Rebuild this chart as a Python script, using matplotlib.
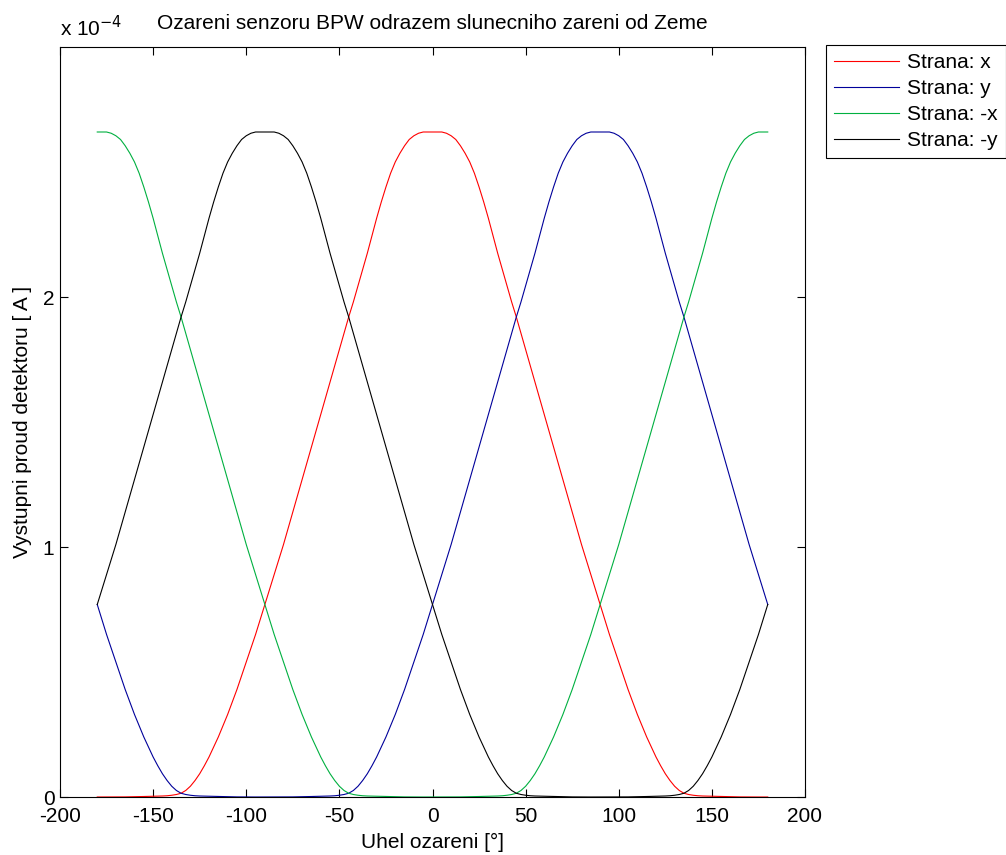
import numpy as np
import matplotlib
matplotlib.use("Agg")
import matplotlib.pyplot as plt
from matplotlib.ticker import FuncFormatter

plt.rcParams['font.family'] = ['Liberation Sans', 'DejaVu Sans']
plt.rcParams['axes.unicode_minus'] = False

# angle of irradiation, degrees
uhel = np.arange(-180, 180.1, 2.5)

# detector output current, in units of 1e-4 A
strana_x = [0, 0, 0, 0, 0, 0.0002, 0.0004, 0.0007, 0.001, 0.0015, 0.002, 0.0025,
            0.003, 0.0035, 0.004, 0.005, 0.007, 0.010, 0.015, 0.026, 0.043, 0.066,
            0.093, 0.125, 0.16, 0.20, 0.24, 0.285, 0.33, 0.38, 0.43, 0.485, 0.54,
            0.595, 0.65, 0.71, 0.77, 0.83, 0.89, 0.95, 1.01, 1.075, 1.14, 1.205,
            1.27, 1.335, 1.40, 1.465, 1.53, 1.595, 1.66, 1.725, 1.79, 1.855, 1.92,
            1.98, 2.045, 2.11, 2.175, 2.245, 2.315, 2.38, 2.44, 2.495, 2.54, 2.575,
            2.605, 2.63, 2.645, 2.655, 2.66, 2.66, 2.66,
            2.66, 2.66, 2.655, 2.645, 2.63, 2.605, 2.575, 2.54, 2.495, 2.44, 2.38,
            2.315, 2.245, 2.175, 2.11, 2.045, 1.98, 1.92, 1.855, 1.79, 1.725, 1.66,
            1.595, 1.53, 1.465, 1.40, 1.335, 1.27, 1.205, 1.14, 1.075, 1.01, 0.95,
            0.89, 0.83, 0.77, 0.71, 0.65, 0.595, 0.54, 0.485, 0.43, 0.38, 0.33,
            0.285, 0.24, 0.20, 0.16, 0.125, 0.093, 0.066, 0.043, 0.026, 0.015,
            0.010, 0.007, 0.005, 0.004, 0.0035, 0.003, 0.0025, 0.002, 0.0015,
            0.001, 0.0007, 0.0004, 0.0002, 0, 0, 0, 0, 0]

strana_y = [0.77, 0.71, 0.65, 0.595, 0.54, 0.485, 0.43, 0.38, 0.33, 0.285, 0.24,
            0.20, 0.16, 0.125, 0.093, 0.066, 0.043, 0.026, 0.015, 0.010, 0.007,
            0.005, 0.004, 0.0035, 0.003, 0.0025, 0.002, 0.0015, 0.001, 0.0007,
            0.0004, 0.0002, 0, 0, 0, 0, 0,
            0, 0, 0, 0, 0.0002, 0.0004, 0.0007, 0.001, 0.0015, 0.002, 0.0025,
            0.003, 0.0035, 0.004, 0.005, 0.007, 0.010, 0.015, 0.026, 0.043, 0.066,
            0.093, 0.125, 0.16, 0.20, 0.24, 0.285, 0.33, 0.38, 0.43, 0.485, 0.54,
            0.595, 0.65, 0.71, 0.77, 0.83, 0.89, 0.95, 1.01, 1.075, 1.14, 1.205,
            1.27, 1.335, 1.40, 1.465, 1.53, 1.595, 1.66, 1.725, 1.79, 1.855, 1.92,
            1.98, 2.045, 2.11, 2.175, 2.245, 2.315, 2.38, 2.44, 2.495, 2.54, 2.575,
            2.605, 2.63, 2.645, 2.655, 2.66, 2.66, 2.66,
            2.66, 2.66, 2.655, 2.645, 2.63, 2.605, 2.575, 2.54, 2.495, 2.44, 2.38,
            2.315, 2.245, 2.175, 2.11, 2.045, 1.98, 1.92, 1.855, 1.79, 1.725, 1.66,
            1.595, 1.53, 1.465, 1.40, 1.335, 1.27, 1.205, 1.14, 1.075, 1.01, 0.95,
            0.89, 0.83, 0.77]

strana_mx = [2.66, 2.66, 2.66, 2.655, 2.645, 2.63, 2.605, 2.575, 2.54, 2.495,
             2.44, 2.38, 2.315, 2.245, 2.175, 2.11, 2.045, 1.98, 1.92, 1.855, 1.79,
             1.725, 1.66, 1.595, 1.53, 1.465, 1.40, 1.335, 1.27, 1.205, 1.14,
             1.075, 1.01, 0.95, 0.89, 0.83, 0.77, 0.71, 0.65, 0.595, 0.54, 0.485,
             0.43, 0.38, 0.33, 0.285, 0.24, 0.20, 0.16, 0.125, 0.093, 0.066, 0.043,
             0.026, 0.015, 0.010, 0.007, 0.005, 0.004, 0.0035, 0.003, 0.0025,
             0.002, 0.0015, 0.001, 0.0007, 0.0004, 0.0002, 0, 0, 0, 0, 0,
             0, 0, 0, 0, 0.0002, 0.0004, 0.0007, 0.001, 0.0015, 0.002, 0.0025,
             0.003, 0.0035, 0.004, 0.005, 0.007, 0.010, 0.015, 0.026, 0.043, 0.066,
             0.093, 0.125, 0.16, 0.20, 0.24, 0.285, 0.33, 0.38, 0.43, 0.485, 0.54,
             0.595, 0.65, 0.71, 0.77, 0.83, 0.89, 0.95, 1.01, 1.075, 1.14, 1.205,
             1.27, 1.335, 1.40, 1.465, 1.53, 1.595, 1.66, 1.725, 1.79, 1.855, 1.92,
             1.98, 2.045, 2.11, 2.175, 2.245, 2.315, 2.38, 2.44, 2.495, 2.54, 2.575,
             2.605, 2.63, 2.645, 2.655, 2.66, 2.66, 2.66]

strana_my = [0.77, 0.83, 0.89, 0.95, 1.01, 1.075, 1.14, 1.205, 1.27, 1.335, 1.40,
             1.465, 1.53, 1.595, 1.66, 1.725, 1.79, 1.855, 1.92, 1.98, 2.045, 2.11,
             2.175, 2.245, 2.315, 2.38, 2.44, 2.495, 2.54, 2.575, 2.605, 2.63,
             2.645, 2.655, 2.66, 2.66,
             2.66, 2.66, 2.66, 2.655, 2.645, 2.63, 2.605, 2.575, 2.54, 2.495, 2.44,
             2.38, 2.315, 2.245, 2.175, 2.11, 2.045, 1.98, 1.92, 1.855, 1.79, 1.725,
             1.66, 1.595, 1.53, 1.465, 1.40, 1.335, 1.27, 1.205, 1.14, 1.075, 1.01,
             0.95, 0.89, 0.83, 0.77, 0.71, 0.65, 0.595, 0.54, 0.485, 0.43, 0.38,
             0.33, 0.285, 0.24, 0.20, 0.16, 0.125, 0.093, 0.066, 0.043, 0.026,
             0.015, 0.010, 0.007, 0.005, 0.004, 0.0035, 0.003, 0.0025, 0.002,
             0.0015, 0.001, 0.0007, 0.0004, 0.0002, 0, 0, 0, 0,
             0, 0, 0, 0, 0, 0.0002, 0.0004, 0.0007, 0.001, 0.0015, 0.002, 0.0025,
             0.003, 0.0035, 0.004, 0.005, 0.007, 0.010, 0.015, 0.026, 0.043, 0.066,
             0.093, 0.125, 0.16, 0.20, 0.24, 0.285, 0.33, 0.38, 0.43, 0.485, 0.54,
             0.595, 0.65, 0.71, 0.77]

labels = ['Strana: x', 'Strana: y', 'Strana: -x', 'Strana: -y']
colors = ['#ff0000', '#00009a', '#00b040', '#000000']

fig = plt.figure(figsize=(10.06, 8.55), dpi=100)
ax = fig.add_axes([60 / 1006, 1 - 797 / 855, 745 / 1006, 750 / 855])

for vals, lab, c in zip([strana_x, strana_y, strana_mx, strana_my], labels, colors):
    ax.plot(uhel, np.array(vals) * 1e-4, color=c, lw=0.8, label=lab)

ax.set_xlim(-200, 200)
ax.set_ylim(0, 3e-4)
ax.set_xticks(np.arange(-200, 201, 50))
ax.set_yticks([0, 1e-4, 2e-4])
ax.yaxis.set_major_formatter(FuncFormatter(lambda v, p: '%g' % round(v / 1e-4, 6)))
ax.tick_params(direction='in', top=True, right=True, labelsize=15, length=6, width=0.8)
ax.tick_params(axis='x', pad=7)
ax.tick_params(axis='y', pad=4)
for s in ax.spines.values():
    s.set_linewidth(0.8)

ax.set_xlabel('Uhel ozareni [°]', fontsize=15, labelpad=5)
ax.set_ylabel('Vystupni proud detektoru [ A ]', fontsize=15, labelpad=8)
ax.set_title('Ozareni senzoru BPW odrazem slunecniho zareni od Zeme', fontsize=15, pad=13)
fig.text(60 / 1006, 1 - 36 / 855, 'x 10$^{-4}$', fontsize=15, ha='left', va='baseline')

leg = ax.legend(loc='upper left', bbox_to_anchor=(826 / 1006, 1 - 45 / 855),
                bbox_transform=fig.transFigure, fontsize=15, frameon=True,
                fancybox=False, edgecolor='black', framealpha=1,
                handlelength=3.1, handletextpad=0.4, labelspacing=0.33,
                borderpad=0.4, borderaxespad=0)
leg.get_frame().set_linewidth(0.8)

fig.savefig('out.png', dpi=100)
